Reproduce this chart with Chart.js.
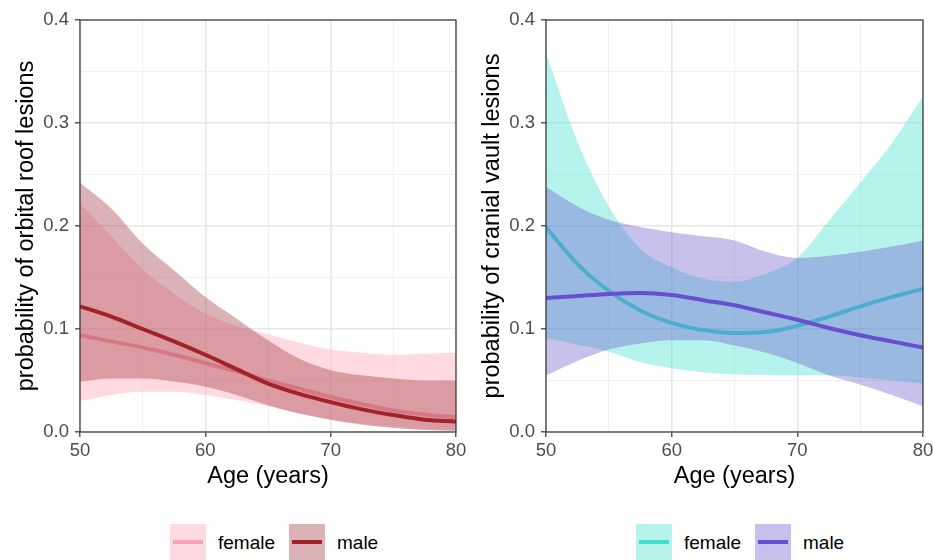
<!DOCTYPE html>
<html><head><meta charset="utf-8">
<script src="https://cdn.jsdelivr.net/npm/chart.js@4.4.1/dist/chart.umd.min.js"></script>
<style>
body{margin:0;background:#fff;width:933px;height:560px;position:relative;overflow:hidden;font-family:"Liberation Sans",Arial,Helvetica,sans-serif;}
canvas.panel{position:absolute;top:0;}
.key{position:absolute;top:524px;width:36px;height:36px;}
.key i{position:absolute;left:3px;right:3px;top:16px;height:4px;display:block;}
.lab{position:absolute;top:531px;font-size:19px;line-height:24px;color:#000;white-space:nowrap;}
</style></head><body>
<canvas id="c1" class="panel" style="left:0px;width:466px;height:500px" width="466" height="500"></canvas>
<canvas id="c2" class="panel" style="left:466px;width:467px;height:500px" width="467" height="500"></canvas>

<div class="key" style="left:170px;background:rgb(255,218,224)"><i style="background:rgb(246,162,178)"></i></div>
<div class="lab" style="left:218px">female</div>
<div class="key" style="left:289px;background:rgb(219,178,182)"><i style="background:#a32228"></i></div>
<div class="lab" style="left:337px">male</div>

<div class="key" style="left:636px;background:rgb(183,242,235)"><i style="background:rgb(64,224,208)"></i></div>
<div class="lab" style="left:684px">female</div>
<div class="key" style="left:755px;background:rgb(199,192,236)"><i style="background:#6650cf"></i></div>
<div class="lab" style="left:803px">male</div>

<script>
// ---- data ----
const ages = [50, 52.5, 55, 57.5, 60, 62.5, 65, 67.5, 70, 72.5, 75, 77.5, 80];
const xTicks = [50, 60, 70, 80];
const yTicks = [0.0, 0.1, 0.2, 0.3, 0.4];
const seriesNames = ["female", "male"];

// Orbital roof lesions
const orbFemaleFit   = [0.094, 0.088, 0.082, 0.075, 0.067, 0.059, 0.050, 0.042, 0.034, 0.027, 0.021, 0.017, 0.014];
const orbFemaleLower = [0.030, 0.036, 0.039, 0.039, 0.036, 0.031, 0.025, 0.018, 0.012, 0.008, 0.005, 0.003, 0.002];
const orbFemaleUpper = [0.222, 0.190, 0.158, 0.134, 0.115, 0.103, 0.095, 0.087, 0.080, 0.077, 0.075, 0.076, 0.077];
const orbMaleFit     = [0.122, 0.112, 0.100, 0.088, 0.075, 0.061, 0.047, 0.037, 0.029, 0.022, 0.0165, 0.012, 0.010];
const orbMaleLower   = [0.049, 0.052, 0.052, 0.049, 0.044, 0.036, 0.026, 0.018, 0.012, 0.007, 0.004, 0.002, 0.001];
const orbMaleUpper   = [0.242, 0.217, 0.183, 0.157, 0.131, 0.110, 0.089, 0.071, 0.060, 0.055, 0.052, 0.050, 0.050];

// Cranial vault lesions
const cvFemaleFit    = [0.199, 0.163, 0.137, 0.118, 0.106, 0.099, 0.096, 0.097, 0.103, 0.112, 0.122, 0.131, 0.139];
const cvFemaleLower  = [0.091, 0.085, 0.078, 0.068, 0.062, 0.058, 0.056, 0.055, 0.055, 0.055, 0.053, 0.050, 0.047];
const cvFemaleUpper  = [0.368, 0.282, 0.219, 0.178, 0.160, 0.149, 0.146, 0.154, 0.169, 0.205, 0.242, 0.280, 0.326];
const cvMaleFit      = [0.130, 0.132, 0.134, 0.135, 0.133, 0.128, 0.123, 0.116, 0.109, 0.101, 0.094, 0.088, 0.082];
const cvMaleLower    = [0.055, 0.069, 0.080, 0.086, 0.089, 0.089, 0.084, 0.077, 0.067, 0.055, 0.046, 0.036, 0.025];
const cvMaleUpper    = [0.238, 0.219, 0.206, 0.199, 0.194, 0.190, 0.186, 0.175, 0.169, 0.171, 0.175, 0.180, 0.186];

// ---- helpers ----
Chart.defaults.font.family = '"Liberation Sans", Arial, Helvetica, sans-serif';
const pts = arr => ages.map((a, i) => ({x: a, y: arr[i]}));
const isMajorY = v => yTicks.some(t => Math.abs(t - v) < 1e-9);
const isMajorX = v => xTicks.includes(v);

const frame = {
  id: 'frame',
  afterDatasetsDraw(chart) {
    const a = chart.chartArea, ctx = chart.ctx;
    ctx.save();
    ctx.strokeStyle = '#333333';
    ctx.lineWidth = 1.2;
    ctx.strokeRect(a.left, a.top, a.right - a.left, a.bottom - a.top);
    ctx.restore();
  }
};

function band(lower, upper, color, order) {
  return [
    {data: pts(lower), borderWidth: 0, borderColor: 'rgba(0,0,0,0)', pointRadius: 0, fill: false, order: order, cubicInterpolationMode: 'monotone'},
    {data: pts(upper), borderWidth: 0, borderColor: 'rgba(0,0,0,0)', pointRadius: 0, fill: '-1', backgroundColor: color, order: order, cubicInterpolationMode: 'monotone'}
  ];
}
function fitLine(vals, color, order, label) {
  return {label: label, data: pts(vals), borderColor: color, borderWidth: 4, pointRadius: 0, fill: false, order: order, cubicInterpolationMode: 'monotone', borderCapStyle: 'butt'};
}

function makeChart(id, yTitle, datasets) {
  return new Chart(document.getElementById(id), {
    type: 'line',
    data: {datasets: datasets},
    options: {
      responsive: false, animation: false,
      layout: {padding: {top: 20, right: 10, left: 0, bottom: 0}},
      plugins: {legend: {display: false}, tooltip: {enabled: false}},
      scales: {
        x: {
          type: 'linear', min: 50, max: 80,
          afterFit: s => { s.height = 68; s.paddingLeft = 0; s.paddingRight = 0; },
          ticks: {stepSize: 5, autoSkip: false, maxRotation: 0, padding: 3,
                  color: '#4d4d4d', font: {size: 18.5},
                  callback: v => isMajorX(v) ? String(v) : ''},
          grid: {color: c => isMajorX(c.tick.value) ? '#e6e6e6' : '#f0f0f0',
                 lineWidth: c => isMajorX(c.tick.value) ? 1.6 : 1,
                 tickColor: c => isMajorX(c.tick.value) ? '#333333' : 'rgba(0,0,0,0)',
                 tickLength: 5, tickWidth: 1.2},
          border: {display: false},
          title: {display: true, text: 'Age (years)', color: '#000', font: {size: 23.5}, padding: {top: 0, bottom: 9}}
        },
        y: {
          min: 0, max: 0.4,
          afterFit: s => { s.width = 80; s.paddingTop = 0; s.paddingBottom = 0; },
          ticks: {stepSize: 0.05, autoSkip: false, padding: 6,
                  color: '#4d4d4d', font: {size: 18.5},
                  callback: v => isMajorY(v) ? v.toFixed(1) : ''},
          grid: {color: c => isMajorY(c.tick.value) ? '#e6e6e6' : '#f0f0f0',
                 lineWidth: c => isMajorY(c.tick.value) ? 1.6 : 1,
                 tickColor: c => isMajorY(c.tick.value) ? '#333333' : 'rgba(0,0,0,0)',
                 tickLength: 5, tickWidth: 1.2},
          border: {display: false},
          title: {display: true, text: yTitle, color: '#000', font: {size: 23.5}, padding: {top: 12, bottom: 0}}
        }
      }
    },
    plugins: [frame]
  });
}

makeChart('c1', 'probability of orbital roof lesions', [
  ...band(orbFemaleLower, orbFemaleUpper, 'rgba(255,182,193,0.5)', 6),
  fitLine(orbFemaleFit, 'rgb(246,162,178)', 5, seriesNames[0]),
  ...band(orbMaleLower, orbMaleUpper, 'rgba(160,53,63,0.38)', 4),
  fitLine(orbMaleFit, '#a32228', 3, seriesNames[1])
]);

makeChart('c2', 'probability of cranial vault lesions', [
  ...band(cvFemaleLower, cvFemaleUpper, 'rgba(64,224,208,0.38)', 6),
  fitLine(cvFemaleFit, 'rgb(64,224,208)', 5, seriesNames[0]),
  ...band(cvMaleLower, cvMaleUpper, 'rgba(104,86,204,0.37)', 4),
  fitLine(cvMaleFit, '#6650cf', 3, seriesNames[1])
]);
</script>
</body></html>
